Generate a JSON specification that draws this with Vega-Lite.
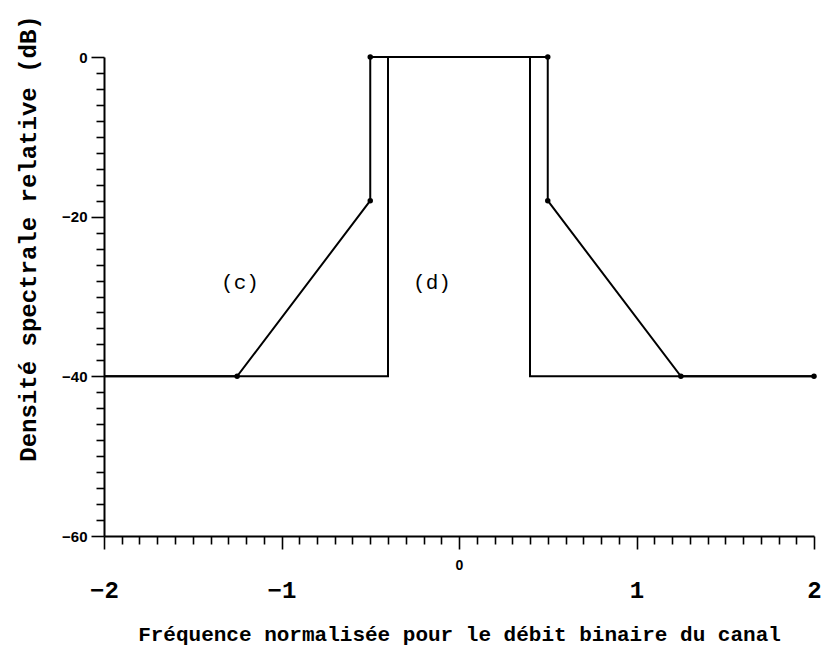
{
  "$schema": "https://vega.github.io/schema/vega-lite/v6.json",
  "width": 710,
  "height": 479,
  "autosize": {"type": "none"},
  "padding": {"left": 104, "top": 57, "right": 13, "bottom": 111},
  "background": "white",
  "config": {
    "view": {"stroke": null},
    "axis": {"grid": false, "domainColor": "black", "tickColor": "black", "labelColor": "black", "titleColor": "black", "domainWidth": 2, "tickWidth": 1.6}
  },
  "datasets": {
    "curves": [
      {"curve": "c", "i": 1, "f": -2, "db": -40},
      {"curve": "c", "i": 2, "f": -1.25, "db": -40},
      {"curve": "c", "i": 3, "f": -0.5, "db": -18},
      {"curve": "c", "i": 4, "f": -0.5, "db": 0},
      {"curve": "c", "i": 5, "f": 0.5, "db": 0},
      {"curve": "c", "i": 6, "f": 0.5, "db": -18},
      {"curve": "c", "i": 7, "f": 1.25, "db": -40},
      {"curve": "c", "i": 8, "f": 2, "db": -40},
      {"curve": "d", "i": 1, "f": -2, "db": -40},
      {"curve": "d", "i": 2, "f": -0.4, "db": -40},
      {"curve": "d", "i": 3, "f": -0.4, "db": 0},
      {"curve": "d", "i": 4, "f": 0.4, "db": 0},
      {"curve": "d", "i": 5, "f": 0.4, "db": -40},
      {"curve": "d", "i": 6, "f": 2, "db": -40}
    ],
    "dots": [
      {"f": -0.5, "db": 0},
      {"f": 0.5, "db": 0},
      {"f": -0.5, "db": -18},
      {"f": 0.5, "db": -18},
      {"f": -1.25, "db": -40},
      {"f": 1.25, "db": -40},
      {"f": 2, "db": -40}
    ],
    "labels": [
      {"f": -1.234, "db": -28.3, "txt": "(c)"},
      {"f": -0.152, "db": -28.3, "txt": "(d)"}
    ]
  },
  "encoding": {
    "x": {
      "field": "f",
      "type": "quantitative",
      "scale": {"domain": [-2, 2], "nice": false, "zero": false},
      "axis": {
        "title": "Fréquence normalisée pour le débit binaire du canal",
        "titleFont": "Liberation Mono",
        "titleFontWeight": "bold",
        "titleFontSize": 21,
        "titleY": 104,
        "titleBaseline": "alphabetic",
        "values": [-2, -1.9, -1.8, -1.7, -1.6, -1.5, -1.4, -1.3, -1.2, -1.1, -1, -0.9, -0.8, -0.7, -0.6, -0.5, -0.4, -0.3, -0.2, -0.1, 0, 0.1, 0.2, 0.3, 0.4, 0.5, 0.6, 0.7, 0.8, 0.9, 1, 1.1, 1.2, 1.3, 1.4, 1.5, 1.6, 1.7, 1.8, 1.9, 2],
        "labelExpr": "abs(datum.value - round(datum.value)) < 0.001 ? format(datum.value, 'd') : ''",
        "labelOverlap": false,
        "labelFlush": false,
        "labelBound": false,
        "tickSize": {"condition": {"test": "abs(datum.value - round(datum.value)) < 0.001", "value": 13}, "value": 8},
        "labelFont": {"condition": {"test": "datum.value == 0", "value": "Liberation Sans"}, "value": "Liberation Mono"},
        "labelFontSize": {"condition": {"test": "datum.value == 0", "value": 14}, "value": 24},
        "labelFontWeight": "bold",
        "labelPadding": {"condition": {"test": "datum.value == 0", "value": 9}, "value": 29}
      }
    },
    "y": {
      "field": "db",
      "type": "quantitative",
      "scale": {"domain": [-60, 0], "nice": false, "zero": false},
      "axis": {
        "title": "Densité spectrale relative (dB)",
        "titleFont": "Liberation Mono",
        "titleFontWeight": "bold",
        "titleFontSize": 24,
        "titleX": -69,
        "titleY": 181,
        "titleAlign": "center",
        "titleBaseline": "alphabetic",
        "titleAngle": -90,
        "values": [-60, -58, -56, -54, -52, -50, -48, -46, -44, -42, -40, -38, -36, -34, -32, -30, -28, -26, -24, -22, -20, -18, -16, -14, -12, -10, -8, -6, -4, -2, 0],
        "labelExpr": "datum.value % 20 == 0 ? format(datum.value, 'd') : ''",
        "labelOverlap": false,
        "labelFlush": false,
        "labelBound": false,
        "tickSize": {"condition": {"test": "datum.value % 20 == 0", "value": 13}, "value": 8},
        "labelFont": "Liberation Sans",
        "labelFontSize": 15,
        "labelFontWeight": "bold",
        "labelPadding": 4
      }
    }
  },
  "layer": [
    {
      "data": {"name": "curves"},
      "mark": {"type": "line", "color": "black", "strokeWidth": 2, "interpolate": "linear"},
      "encoding": {
        "detail": {"field": "curve"},
        "order": {"field": "i", "type": "quantitative"}
      }
    },
    {
      "data": {"name": "dots"},
      "mark": {"type": "point", "filled": true, "color": "black", "size": 30, "opacity": 1}
    },
    {
      "data": {"name": "labels"},
      "mark": {"type": "text", "font": "Liberation Mono", "fontSize": 21, "color": "black", "align": "center", "baseline": "middle"},
      "encoding": {"text": {"field": "txt"}}
    }
  ]
}
